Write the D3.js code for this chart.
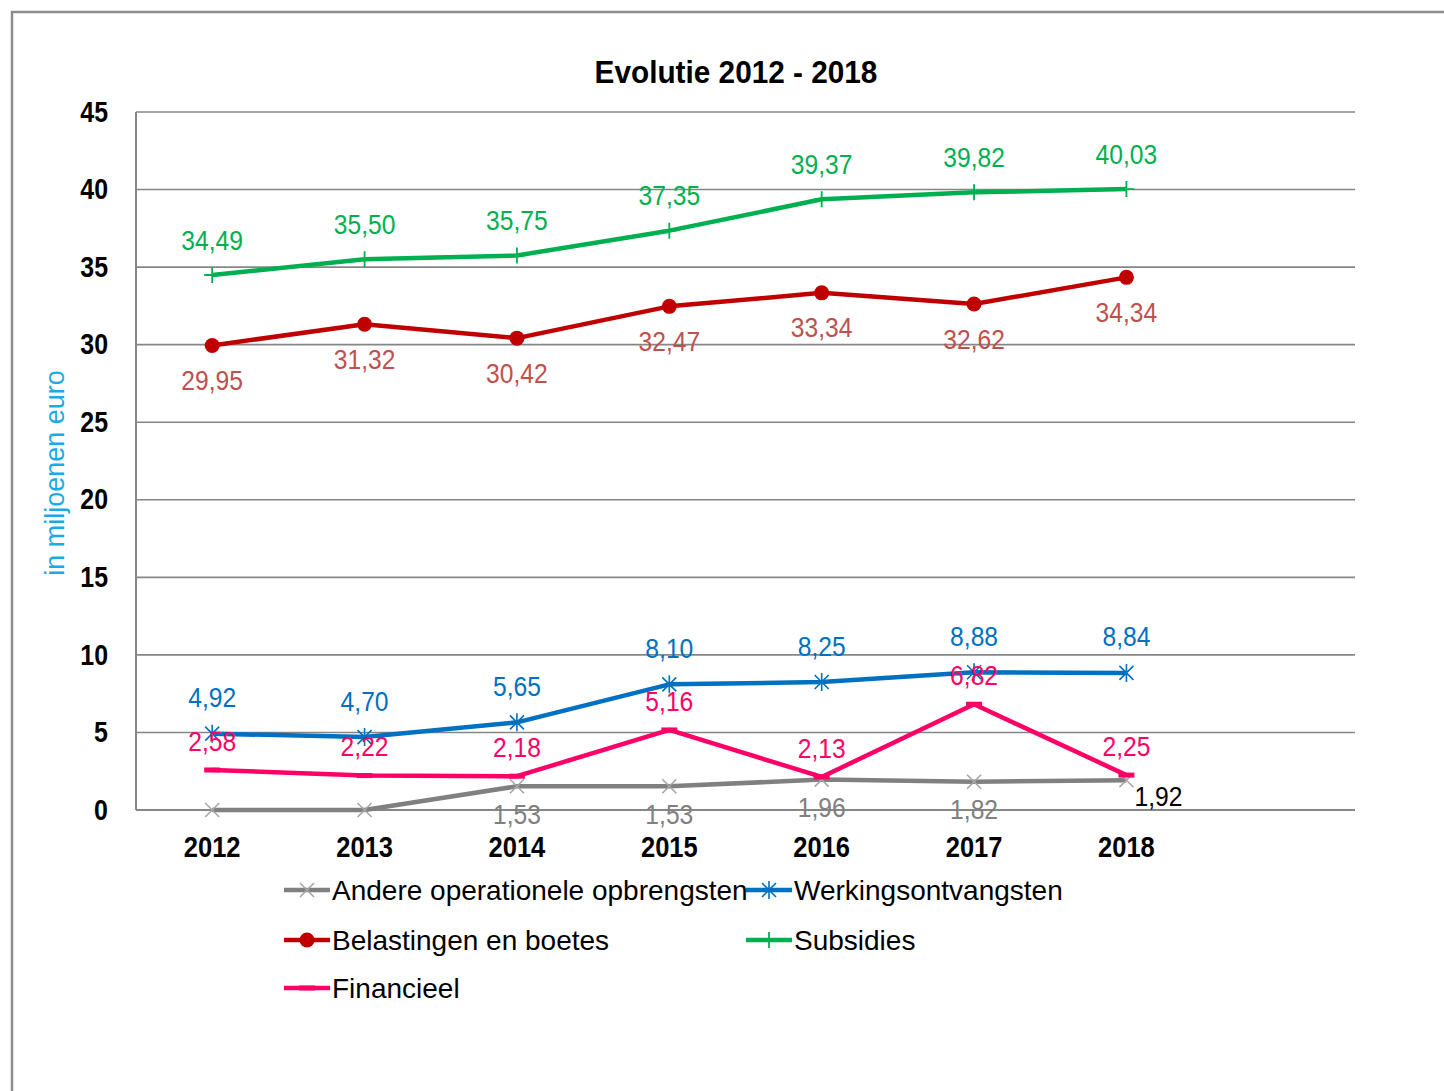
<!DOCTYPE html>
<html>
<head>
<meta charset="utf-8">
<script src="https://cdn.jsdelivr.net/npm/d3@7"></script>
<style>
  html, body { margin: 0; padding: 0; background: #fff; }
  svg { display: block; }
  text { font-family: "Liberation Sans Narrow", "Arial Narrow", "Liberation Sans", Arial, sans-serif; }
</style>
</head>
<body>
<svg id="chart" width="1444" height="1091"></svg>
<script>
const years = ["2012", "2013", "2014", "2015", "2016", "2017", "2018"];
const andere = [0, 0, 1.53, 1.53, 1.96, 1.82, 1.92];
const andereLabels = [null, null, "1,53", "1,53", "1,96", "1,82", "1,92"];
const werking = [4.92, 4.70, 5.65, 8.10, 8.25, 8.88, 8.84];
const belasting = [29.95, 31.32, 30.42, 32.47, 33.34, 32.62, 34.34];
const subsidies = [34.49, 35.50, 35.75, 37.35, 39.37, 39.82, 40.03];
const financieel = [2.58, 2.22, 2.18, 5.16, 2.13, 6.82, 2.25];
const yTicks = [0, 5, 10, 15, 20, 25, 30, 35, 40, 45];
const seriesNames = ["Andere operationele opbrengsten", "Werkingsontvangsten", "Belastingen en boetes", "Subsidies", "Financieel"];
const titleText = "Evolutie 2012 - 2018";
const yAxisTitle = "in miljoenen euro";

const fmt = v => v.toFixed(2).replace(".", ",");

const series = [
  { name: seriesNames[0], values: andere, color: "#808080", labelColor: "#808080", marker: "x", markerColor: "#a6a6a6", labelDy: 28, labels: andereLabels },
  { name: seriesNames[1], values: werking, color: "#0070C0", labelColor: "#0070C0", marker: "star", markerColor: "#0070C0", labelDy: -36 },
  { name: seriesNames[2], values: belasting, color: "#C00000", labelColor: "#C0504D", marker: "circle", markerColor: "#C00000", labelDy: 35 },
  { name: seriesNames[3], values: subsidies, color: "#00B050", labelColor: "#00B050", marker: "plus", markerColor: "#00B050", labelDy: -35 },
  { name: seriesNames[4], values: financieel, color: "#FF0066", labelColor: "#FF0066", marker: "dash", markerColor: "#FF0066", labelDy: -29 }
];

const svg = d3.select("#chart");
const plot = { left: 136, top: 112, bottom: 810, right: 1355 };
const step = (plot.right - plot.left) / 8;

const x = d3.scaleBand().domain(years).range([plot.left, plot.left + step * years.length]).padding(0);
const cx = d => x(d) + x.bandwidth() / 2;
const y = d3.scaleLinear().domain([0, 45]).range([plot.bottom, plot.top]);

// helper: horizontally condensed text
function narrowText(g, px, py, str, opts) {
  return g.append("text")
    .attr("transform", `translate(${px},${py}) scale(${opts.sx || 0.9},1)`)
    .attr("text-anchor", opts.anchor || "middle")
    .attr("dominant-baseline", "central")
    .attr("font-size", opts.size)
    .attr("font-weight", opts.weight || "normal")
    .attr("fill", opts.color || "#000")
    .text(str);
}

// outer frame
svg.append("path")
  .attr("d", `M12,1091 L12,12 L1444,12`)
  .attr("fill", "none").attr("stroke", "#8c8c8c").attr("stroke-width", 2.5);

// gridlines
svg.append("g").selectAll("line").data(yTicks.filter(t => t > 0)).join("line")
  .attr("x1", plot.left).attr("x2", plot.right)
  .attr("y1", d => y(d)).attr("y2", d => y(d))
  .attr("stroke", "#868686").attr("stroke-width", 1.6);

// axes lines
svg.append("line").attr("x1", plot.left).attr("x2", plot.left).attr("y1", plot.top).attr("y2", plot.bottom)
  .attr("stroke", "#868686").attr("stroke-width", 2);
svg.append("line").attr("x1", plot.left).attr("x2", plot.right).attr("y1", plot.bottom).attr("y2", plot.bottom)
  .attr("stroke", "#868686").attr("stroke-width", 2);

// y tick labels
const yt = svg.append("g");
yTicks.forEach(t => narrowText(yt, 108, y(t), String(t), { anchor: "end", size: 29, weight: "bold", sx: 0.86 }));

// x tick labels
const xt = svg.append("g");
years.forEach(yr => narrowText(xt, cx(yr), 847, yr, { size: 29, weight: "bold", sx: 0.88 }));

// title
narrowText(svg, 736, 72, titleText, { size: 32, weight: "bold", sx: 0.93 });

// y axis title
svg.append("text")
  .attr("transform", `translate(55,473) rotate(-90)`)
  .attr("text-anchor", "middle").attr("dominant-baseline", "central")
  .attr("font-size", 27).attr("fill", "#1AAAE8")
  .text(yAxisTitle);

function drawMarker(g, type, color, px, py) {
  if (type === "circle") {
    g.append("circle").attr("cx", px).attr("cy", py).attr("r", 7.5).attr("fill", color);
  } else if (type === "plus") {
    g.append("path").attr("d", `M${px - 8},${py} H${px + 8} M${px},${py - 8} V${py + 8}`)
      .attr("stroke", color).attr("stroke-width", 1.8).attr("fill", "none");
  } else if (type === "x") {
    g.append("path").attr("d", `M${px - 7},${py - 7} L${px + 7},${py + 7} M${px - 7},${py + 7} L${px + 7},${py - 7}`)
      .attr("stroke", color).attr("stroke-width", 1.6).attr("fill", "none");
  } else if (type === "star") {
    g.append("path").attr("d", `M${px - 7},${py - 7} L${px + 7},${py + 7} M${px - 7},${py + 7} L${px + 7},${py - 7} M${px},${py - 9} V${py + 9}`)
      .attr("stroke", color).attr("stroke-width", 1.6).attr("fill", "none");
  } else if (type === "dash") {
    g.append("path").attr("d", `M${px - 8},${py} H${px + 8}`)
      .attr("stroke", color).attr("stroke-width", 5).attr("fill", "none");
  }
}

const line = d3.line().x((d, i) => cx(years[i])).y(d => y(d));

const drawOrder = [0, 4, 1, 2, 3];
drawOrder.forEach(si => {
  const s = series[si];
  const g = svg.append("g");
  g.append("path").datum(s.values).attr("d", line)
    .attr("fill", "none").attr("stroke", s.color).attr("stroke-width", 4.5)
    .attr("stroke-linejoin", "round");
  s.values.forEach((v, i) => drawMarker(g, s.marker, s.markerColor, cx(years[i]), y(v)));
});

// data labels
series.forEach((s, si) => {
  const g = svg.append("g");
  s.values.forEach((v, i) => {
    const label = s.labels ? s.labels[i] : fmt(v);
    if (label === null) return;
    let px = cx(years[i]), py = y(v) + s.labelDy, anchor = "middle", color = s.labelColor;
    if (si === 0 && i === years.length - 1) {
      px = cx(years[i]) + 8; py = y(v) + 16; anchor = "start"; color = "#000";
    }
    narrowText(g, px, py, label, { anchor, size: 28, color, sx: 0.88 });
  });
});

// legend
const legendItems = [
  { s: series[0], lx: 284, ly: 890 },
  { s: series[1], lx: 746, ly: 890 },
  { s: series[2], lx: 284, ly: 940 },
  { s: series[3], lx: 746, ly: 940 },
  { s: series[4], lx: 284, ly: 988 }
];
const lg = svg.append("g");
legendItems.forEach(it => {
  lg.append("line").attr("x1", it.lx).attr("x2", it.lx + 46).attr("y1", it.ly).attr("y2", it.ly)
    .attr("stroke", it.s.color).attr("stroke-width", 4.5);
  drawMarker(lg, it.s.marker, it.s.markerColor, it.lx + 23, it.ly);
  lg.append("text").attr("x", it.lx + 48).attr("y", it.ly)
    .attr("dominant-baseline", "central").attr("font-size", 28).attr("fill", "#000")
    .text(it.s.name);
});
</script>
</body>
</html>
